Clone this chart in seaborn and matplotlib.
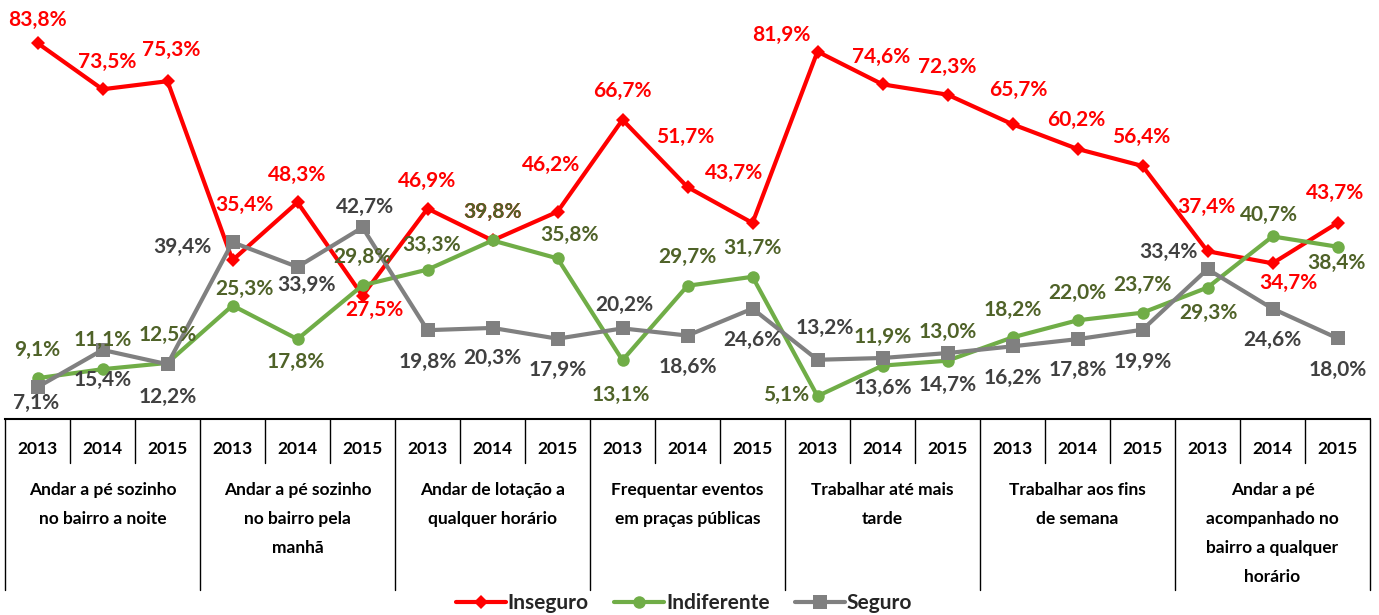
import pandas as pd
import matplotlib.pyplot as plt
import matplotlib.transforms as mtransforms
import seaborn as sns

# Data

years = ['2013', '2014', '2015']
categories = ['Andar a pé sozinho\nno bairro a noite',
              'Andar a pé sozinho\nno bairro pela\nmanhã',
              'Andar de lotação a\nqualquer horário',
              'Frequentar eventos\nem praças públicas',
              'Trabalhar até mais\ntarde',
              'Trabalhar aos fins\nde semana',
              'Andar a pé\nacompanhado no\nbairro a qualquer\nhorário']

inseguro = [83.8, 73.5, 75.3, 35.4, 48.3, 27.5, 46.9, 39.8, 46.2, 66.7, 51.7,
            43.7, 81.9, 74.6, 72.3, 65.7, 60.2, 56.4, 37.4, 34.7, 43.7]
indiferente = [9.1, 11.1, 12.5, 25.3, 17.8, 29.8, 33.3, 39.8, 35.8, 13.1, 29.7,
               31.7, 5.1, 11.9, 13.0, 18.2, 22.0, 23.7, 29.3, 40.7, 38.4]
seguro = [7.1, 15.4, 12.2, 39.4, 33.9, 42.7, 19.8, 20.3, 17.9, 20.2, 18.6,
          24.6, 13.2, 13.6, 14.7, 16.2, 17.8, 19.9, 33.4, 24.6, 18.0]

series_names = ['Inseguro', 'Indiferente', 'Seguro']

# Label offsets in pixels (dx, dy), by series
offsets = {
    'Inseguro': [(0, 23), (5, 27), (4, 31), (12, 55), (0, 27), (12, -14), (0, 28),
                 (0, 28), (-6, 47), (0, 29), (-2, 50), (-18, 50), (-36, 17),
                 (-1, 27), (0, 28), (6, 34), (-1, 29), (-1, 29), (-1, 44),
                 (16, -20), (-2, 30)],
    'Indiferente': [(0, 28), (0, 29), (0, 28), (12, 17), (-2, -23), (0, 28),
                    (4, 25), (0, 28), (12, 23), (-2, -35), (0, 29), (0, 29),
                    (-31, 1), (0, 29), (0, 29), (0, 27), (0, 27), (0, 28),
                    (1, -25), (-4, 21), (-1, -16)],
    'Seguro': [(-1, -16), (0, -30), (0, -33), (-50, -5), (9, -18), (3, 20),
               (0, -32), (0, -30), (0, -31), (2, 23), (0, -31), (0, -31),
               (7, 32), (0, -30), (0, -32), (0, -32), (0, -31), (0, -32),
               (-39, 17), (0, -31), (0, -32)],
}

line_colors = {'Inseguro': '#FF0000', 'Indiferente': '#70AD47', 'Seguro': '#808080'}
label_colors = {'Inseguro': '#FF0000', 'Indiferente': '#4F6228', 'Seguro': '#404040'}
markers = {'Inseguro': 'D', 'Indiferente': 'o', 'Seguro': 's'}
marker_sizes = {'Inseguro': 7, 'Indiferente': 9, 'Seguro': 10}

n = len(inseguro)
df = pd.DataFrame({'pos': list(range(n)) * 3,
                   'valor': inseguro + indiferente + seguro,
                   'serie': [s for s in series_names for _ in range(n)]})

sns.set_style('white')
plt.rcParams['font.family'] = ['Lato', 'DejaVu Sans']
plt.rcParams['font.weight'] = 'bold'

W, H = 1379, 615
fig = plt.figure(figsize=(W / 100, H / 100), dpi=100)
ax = fig.add_axes([5 / W, (H - 419) / H, 1365 / W, 419 / H])

for s in series_names:
    sub = df[df.serie == s]
    sns.lineplot(data=sub, x='pos', y='valor', ax=ax, color=line_colors[s],
                 marker=markers[s], markersize=marker_sizes[s],
                 markeredgewidth=0, linewidth=3, label=s, legend=False)

for s in series_names:
    sub = df[df.serie == s]
    for (p, v), (dx, dy) in zip(zip(sub.pos, sub.valor), offsets[s]):
        ax.annotate(f'{v:.1f}%'.replace('.', ','), (p, v),
                    xytext=(dx, dy), textcoords='offset pixels',
                    ha='center', va='center', fontsize=15,
                    fontweight='bold', color=label_colors[s], zorder=10)

ax.set_xlim(-0.5, n - 0.5)
ax.set_ylim(0, 419 / 4.486)
ax.set_xticks([])
ax.set_yticks([])
ax.set_xlabel('')
ax.set_ylabel('')
for side in ['top', 'right', 'left']:
    ax.spines[side].set_visible(False)
ax.spines['bottom'].set_color('#000000')
ax.spines['bottom'].set_linewidth(1.5)

# Category table below the axis
trans = mtransforms.blended_transform_factory(ax.transData, fig.transFigure)


def fy(px):
    return (H - px) / H


for i in range(n):
    ax.text(i, fy(449), years[i % 3], transform=trans, ha='center', va='center',
            fontsize=12.5, fontweight='bold', color='#000000')
    if i % 3 != 0:
        ax.plot([i - 0.5, i - 0.5], [fy(419), fy(463)], transform=trans,
                color='#000000', linewidth=1, clip_on=False)

for g in range(len(categories) + 1):
    xg = g * 3 - 0.5
    ax.plot([xg, xg], [fy(419), fy(590)], transform=trans,
            color='#000000', linewidth=1, clip_on=False)

for g, cat in enumerate(categories):
    for k, line in enumerate(cat.split('\n')):
        ax.text(g * 3 + 1, fy(490 + 29 * k), line, transform=trans,
                ha='center', va='center', fontsize=12.5, fontweight='bold',
                color='#000000')

handles, labels = ax.get_legend_handles_labels()
fig.legend(handles, labels, loc='center', bbox_to_anchor=(684 / W, fy(603)),
           ncol=3, frameon=False, fontsize=15, handlelength=2.4,
           handletextpad=0.1, columnspacing=1.2, borderpad=0)

fig.savefig('out.png', dpi=100)
